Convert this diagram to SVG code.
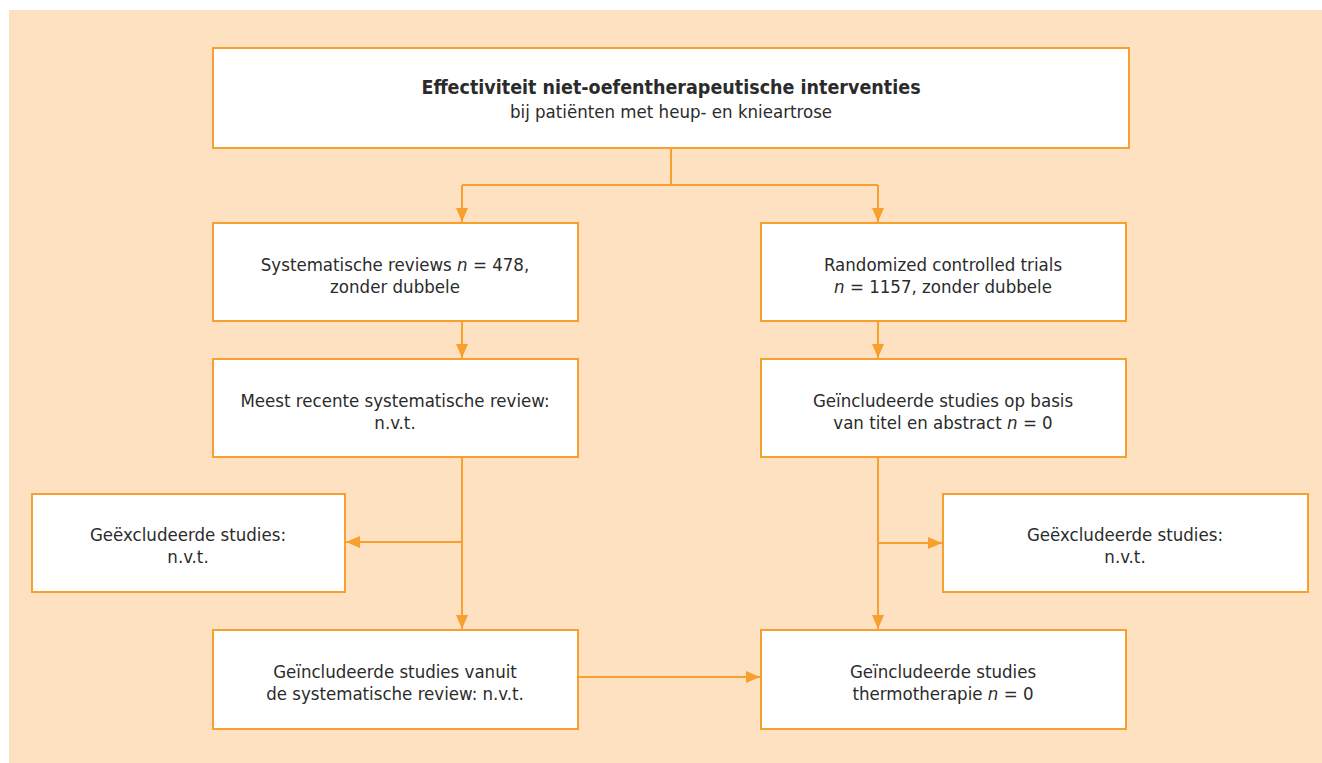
<svg xmlns="http://www.w3.org/2000/svg" width="1322" height="763" viewBox="0 0 1322 763">
  <defs>
    <marker id="arrow" viewBox="0 0 14 12" refX="14" refY="6" markerWidth="14" markerHeight="12" markerUnits="userSpaceOnUse" orient="auto">
      <path d="M0,0 L14,6 L0,12 Z" fill="#F7A030"/>
    </marker>
  </defs>
  <style>
    .box { fill: #FFFFFF; stroke: #F7A030; stroke-width: 2; }
    .edge { fill: none; stroke: #F7A030; stroke-width: 2; marker-end: url(#arrow); }
    .line { fill: none; stroke: #F7A030; stroke-width: 2; }
    text { font-family: "DejaVu Sans Condensed", "Liberation Sans Narrow", "Liberation Sans", sans-serif; font-size: 18.5px; fill: #2B2B2B; text-anchor: middle; }
    .title { font-weight: bold; font-size: 19.5px; }
    .it { font-style: italic; }
  </style>

  <rect x="9" y="10" width="1313" height="753" fill="#FDE1C0"/>

  <!-- connectors -->
  <g id="connectors">
    <path class="line" d="M671,148 V185 M462,185 H878"/>
    <path class="edge" d="M462,185 V222"/>
    <path class="edge" d="M878,185 V222"/>
    <path class="edge" d="M462,321 V358"/>
    <path class="edge" d="M878,321 V358"/>
    <path class="edge" d="M462,457 V629"/>
    <path class="edge" d="M462,542 H346"/>
    <path class="edge" d="M878,457 V629"/>
    <path class="edge" d="M878,543 H942"/>
    <path class="edge" d="M578,677 H760"/>
  </g>

  <g id="n-top">
    <rect class="box" x="213" y="48" width="916" height="100"/>
    <text class="title" x="671" y="94">Effectiviteit niet-oefentherapeutische interventies</text>
    <text x="671" y="118">bij patiënten met heup- en knieartrose</text>
  </g>

  <g id="n-sr">
    <rect class="box" x="213" y="223" width="365" height="98"/>
    <text x="395" y="271">Systematische reviews <tspan class="it">n</tspan> = 478,</text>
    <text x="395" y="293">zonder dubbele</text>
  </g>

  <g id="n-rct">
    <rect class="box" x="761" y="223" width="365" height="98"/>
    <text x="943" y="271">Randomized controlled trials</text>
    <text x="943" y="293"><tspan class="it">n</tspan> = 1157, zonder dubbele</text>
  </g>

  <g id="n-recent">
    <rect class="box" x="213" y="359" width="365" height="98"/>
    <text x="395" y="407">Meest recente systematische review:</text>
    <text x="395" y="429">n.v.t.</text>
  </g>

  <g id="n-incl-ta">
    <rect class="box" x="761" y="359" width="365" height="98"/>
    <text x="943" y="407">Geïncludeerde studies op basis</text>
    <text x="943" y="429">van titel en abstract <tspan class="it">n</tspan> = 0</text>
  </g>

  <g id="n-excl-left">
    <rect class="box" x="32" y="494" width="313" height="98"/>
    <text x="188" y="541">Geëxcludeerde studies:</text>
    <text x="188" y="563">n.v.t.</text>
  </g>

  <g id="n-excl-right">
    <rect class="box" x="943" y="494" width="365" height="98"/>
    <text x="1125" y="541">Geëxcludeerde studies:</text>
    <text x="1125" y="563">n.v.t.</text>
  </g>

  <g id="n-incl-sr">
    <rect class="box" x="213" y="630" width="365" height="99"/>
    <text x="395" y="678">Geïncludeerde studies vanuit</text>
    <text x="395" y="700">de systematische review: n.v.t.</text>
  </g>

  <g id="n-incl-thermo">
    <rect class="box" x="761" y="630" width="365" height="99"/>
    <text x="943" y="678">Geïncludeerde studies</text>
    <text x="943" y="700">thermotherapie <tspan class="it">n</tspan> = 0</text>
  </g>
</svg>
